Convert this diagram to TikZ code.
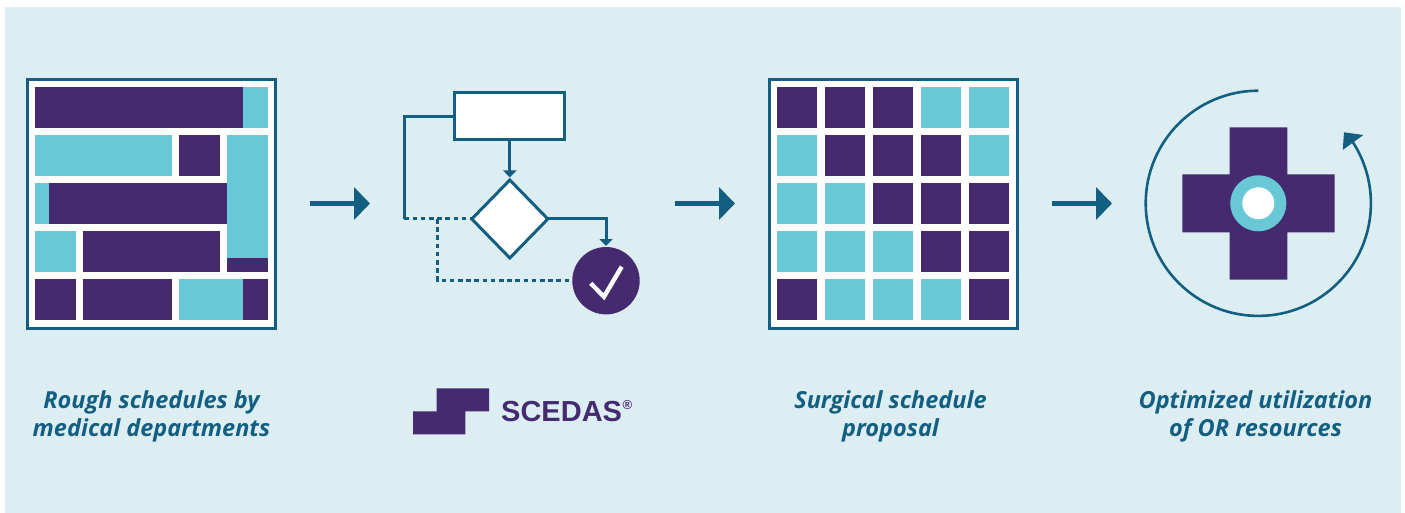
\documentclass[tikz,border=0pt]{standalone}
\usepackage{fontspec}
\setmainfont{Open Sans}
\newfontfamily\logofont{Liberation Sans}
\usetikzlibrary{arrows.meta}
\usetikzlibrary{shapes.geometric}
\definecolor{panelblue}{HTML}{DDEEF3}
\definecolor{deeppurple}{HTML}{452A70}
\definecolor{softteal}{HTML}{69C8D6}
\definecolor{linenavy}{HTML}{135F82}
\tikzstyle{frame}=[draw=linenavy, fill=white, line width=3pt, inner sep=0, outer sep=0, anchor=north west, minimum width=248pt, minimum height=248.5pt]
\tikzstyle{cell}=[inner sep=0, outer sep=0, anchor=north west, minimum width=40.4pt, minimum height=40.4pt]
\tikzstyle{pcell}=[cell, fill=deeppurple]
\tikzstyle{tcell}=[cell, fill=softteal]
\tikzstyle{flowline}=[draw=linenavy, line width=3pt]
\tikzstyle{flowarrow}=[flowline, -{Triangle[length=7pt, width=13pt]}]
\tikzstyle{flowdash}=[flowline, dash pattern=on 4.6pt off 3.6pt]
\tikzstyle{bigarrow}=[draw=linenavy, line width=5pt, -{Triangle[length=16pt, width=32pt]}]
\tikzstyle{caption}=[text=linenavy, align=center, inner sep=0, font=\fontsize{23.5}{28}\selectfont\bfseries\itshape]
\begin{document}
\begin{tikzpicture}[x=1pt, y=-1pt]
        \useasboundingbox (0, 0) rectangle (1405, 513);
        \fill[panelblue] (5, 7) rectangle (1401, 513);
        % Rough schedules
        \node[frame] (framerough) at (27.5, 79.5) {};
        \node[pcell, minimum width=207.7pt] (roughA) at (35.3, 87.3) {};
        \node[tcell, minimum width=24.7pt] (roughB) at (243, 87.3) {};
        \node[tcell, minimum width=136.4pt] (roughC) at (35.3, 135.3) {};
        \node[pcell] (roughD) at (179.3, 135.3) {};
        \node[tcell, minimum width=14pt] (roughE) at (35.3, 183.3) {};
        \node[pcell, minimum width=178pt] (roughF) at (49.3, 183.3) {};
        \node[tcell] (roughG) at (35.3, 231.3) {};
        \node[pcell, minimum width=136.4pt] (roughH) at (83.3, 231.3) {};
        \node[pcell, minimum height=13.7pt] (roughI) at (227.3, 258) {};
        \node[tcell, minimum height=122.7pt] (roughJ) at (227.3, 135.3) {};
        \node[pcell] (roughK) at (35.3, 279.3) {};
        \node[pcell, minimum width=88.4pt] (roughL) at (83.3, 279.3) {};
        \node[tcell, minimum width=63.7pt] (roughM) at (179.3, 279.3) {};
        \node[pcell, minimum width=24.7pt] (roughN) at (243, 279.3) {};
        % Arrows between the panels
        \coordinate (arrowAstart) at (310, 203.5);
        \coordinate (arrowAend) at (370, 203.5);
        \coordinate (arrowBstart) at (675, 203.5);
        \coordinate (arrowBend) at (735, 203.5);
        \coordinate (arrowCstart) at (1052, 203.5);
        \coordinate (arrowCend) at (1112, 203.5);
        \draw[bigarrow] (arrowAstart) -- (arrowAend);
        \draw[bigarrow] (arrowBstart) -- (arrowBend);
        \draw[bigarrow] (arrowCstart) -- (arrowCend);
        % Flow chart
        \node[flowline, fill=white, inner sep=0, outer sep=0, minimum width=110pt, minimum height=47.3pt] (flowbox) at (509.8, 115.9) {};
        \node[flowline, fill=white, diamond, aspect=1, inner sep=0, outer sep=0, minimum width=76pt, minimum height=78pt] (flowdiamond) at (509.8, 219) {};
        \node[circle, fill=deeppurple, inner sep=0, outer sep=0, minimum size=67.4pt] (flowdone) at (606, 280.7) {};
        \coordinate (loopcorner) at (404.3, 219);
        \coordinate (loopdrop) at (437.7, 219);
        \draw[flowline] ([yshift=-1pt]flowbox.west) -| (loopcorner);
        \draw[flowdash] (loopcorner) -- (flowdiamond.west);
        \draw[flowdash] (loopdrop) |- (flowdone.west);
        \draw[flowarrow, shorten >=2.5pt] (flowbox.south) -- (flowdiamond.north);
        \draw[flowarrow, shorten >=1pt] (flowdiamond.east) -| (flowdone.north);
        \draw[white, line width=4.4pt] (flowdone.center) +(-15.3, 2.6) -- +(-2, 16) -- +(15.7, -14);
        % Surgical schedule
        \node[frame] (frameplan) at (769.2, 79.5) {};
        \foreach \col/\row/\kind in {0/0/pcell, 1/0/pcell, 2/0/pcell, 3/0/tcell, 4/0/tcell,
                                     0/1/tcell, 1/1/pcell, 2/1/pcell, 3/1/pcell, 4/1/tcell,
                                     0/2/tcell, 1/2/tcell, 2/2/pcell, 3/2/pcell, 4/2/pcell,
                                     0/3/tcell, 1/3/tcell, 2/3/tcell, 3/3/pcell, 4/3/pcell,
                                     0/4/pcell, 1/4/tcell, 2/4/tcell, 3/4/tcell, 4/4/pcell}
            \node[\kind] (plan\col\row) at (777 + 48*\col, 87.3 + 48*\row) {};
        % Optimized utilization
        \fill[deeppurple] (1229.7, 127.3) -- (1287.3, 127.3) -- (1287.3, 174.3) -- (1334.7, 174.3) -- (1334.7, 232.3) -- (1287.3, 232.3) -- (1287.3, 279.7) -- (1229.7, 279.7) -- (1229.7, 232.3) -- (1182.3, 232.3) -- (1182.3, 174.3) -- (1229.7, 174.3) -- cycle;
        \node[circle, fill=softteal, inner sep=0, outer sep=0, minimum size=56pt] (hubring) at (1258.3, 203.3) {};
        \node[circle, fill=white, inner sep=0, outer sep=0, minimum size=32pt] (hubcore) at (hubring) {};
        \draw[linenavy, line width=2.6pt] (1258.3, 90.7) arc[start angle=-90, delta angle=-302.7, radius=112.6];
        \fill[linenavy] (1344, 132.3) -- (1363.3, 135) -- (1342.7, 150) -- cycle;
        % Captions and logo
        \node[caption] (labelrough) at (151.5, 416.5) {Rough schedules by\\medical departments};
        \node[caption] (labelplan) at (890.5, 416.5) {Surgical schedule\\proposal};
        \node[caption] (labelhub) at (1255.5, 416.5) {Optimized utilization\\of OR resources};
        \fill[deeppurple] (436.7, 388.3) -- (489, 388.3) -- (489, 411.3) -- (465.3, 411.3) -- (465.3, 434.3) -- (413, 434.3) -- (413, 411.3) -- (436.7, 411.3) -- cycle;
        \node[inner sep=0, anchor=base west, text=deeppurple, font=\logofont\bfseries\fontsize{29}{29}\selectfont] (logotext) at (501, 421.5) {SCEDAS};
        \node[inner sep=0, anchor=base west, text=deeppurple, font=\logofont\bfseries\fontsize{13}{13}\selectfont] (logomark) at (622.5, 409.5) {®};
    \end{tikzpicture}
\end{document}
